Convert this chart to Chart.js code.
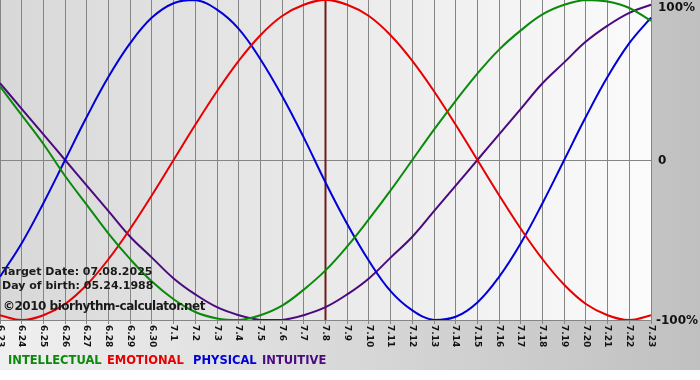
<!DOCTYPE html>
<html>
<head>
<meta charset="utf-8">
<script src="https://cdn.jsdelivr.net/npm/chart.js@4"></script>
<style>
  body { margin: 0; background: #fff; }
  #wrap { width: 700px; height: 380px; }
</style>
</head>
<body>
<div id="wrap"><canvas id="bioChart" width="700" height="380"></canvas></div>
<script>
// Fechas del periodo (mes.dia)
const days = [
  "6.23", "6.24", "6.25", "6.26", "6.27", "6.28", "6.29", "6.30",
  "7.1", "7.2", "7.3", "7.4", "7.5", "7.6", "7.7", "7.8", "7.9",
  "7.10", "7.11", "7.12", "7.13", "7.14", "7.15", "7.16", "7.17",
  "7.18", "7.19", "7.20", "7.21", "7.22", "7.23",
];

// Valores de cada ciclo (-1 a 1)
const intellectual = [0.46, 0.28, 0.10, -0.10, -0.28, -0.46, -0.62, -0.76, -0.87, -0.95, -0.99, -1.00, -0.97, -0.91, -0.81, -0.69, -0.54, -0.37, -0.19, 0.00, 0.19, 0.37, 0.54, 0.69, 0.81, 0.91, 0.97, 1.00, 0.99, 0.95, 0.87];
const emotional = [-0.97, -1.00, -0.97, -0.90, -0.78, -0.62, -0.43, -0.22, 0.00, 0.22, 0.43, 0.62, 0.78, 0.90, 0.97, 1.00, 0.97, 0.90, 0.78, 0.62, 0.43, 0.22, 0.00, -0.22, -0.43, -0.62, -0.78, -0.90, -0.97, -1.00, -0.97];
const physical = [-0.73, -0.52, -0.27, 0.00, 0.27, 0.52, 0.73, 0.89, 0.98, 1.00, 0.94, 0.82, 0.63, 0.40, 0.14, -0.14, -0.40, -0.63, -0.82, -0.94, -1.00, -0.98, -0.89, -0.73, -0.52, -0.27, 0.00, 0.27, 0.52, 0.73, 0.89];
const intuitive = [0.48, 0.32, 0.16, 0.00, -0.16, -0.32, -0.48, -0.61, -0.74, -0.84, -0.92, -0.97, -1.00, -1.00, -0.97, -0.92, -0.84, -0.74, -0.61, -0.48, -0.32, -0.16, 0.00, 0.16, 0.32, 0.48, 0.61, 0.74, 0.84, 0.92, 0.97];

const targetDay = "7.8";
const yTicks = [1, 0, -1];
const yTickLabels = ["100%", "0", "-100%"];
const seriesNames = ["INTELLECTUAL", "EMOTIONAL", "PHYSICAL", "INTUITIVE"];

const colors = ["#0a8a0a", "#e80000", "#0000d8", "#4b0a80"];
const legendX = [8, 107, 193, 262]; // posicion de cada palabra de la leyenda

// Fondo, linea de fecha y textos
const bioDecor = {
  id: "bioDecor",
  beforeDraw(chart) {
    const { ctx, chartArea: a, width, height } = chart;
    ctx.save();
    let g = ctx.createLinearGradient(0, 0, width, 0);
    g.addColorStop(0, "#f0f0f0");
    g.addColorStop(1, "#c0c0c0");
    ctx.fillStyle = g;
    ctx.fillRect(0, 0, width, height - 10);
    ctx.fillStyle = "#ffffff";
    ctx.fillRect(0, height - 10, width, 10);
    g = ctx.createLinearGradient(a.left, 0, a.right, 0);
    g.addColorStop(0, "#d8d8d8");
    g.addColorStop(1, "#fbfbfb");
    ctx.fillStyle = g;
    ctx.fillRect(a.left, a.top, a.right - a.left, a.bottom - a.top);
    ctx.restore();
  },
  beforeDatasetsDraw(chart) {
    const { ctx, chartArea: a, scales } = chart;
    const x = scales.x.getPixelForValue(days.indexOf(targetDay));
    ctx.save();
    ctx.strokeStyle = "#6e1c1c";
    ctx.lineWidth = 2;
    ctx.beginPath();
    ctx.moveTo(x, a.top);
    ctx.lineTo(x, a.bottom);
    ctx.stroke();
    ctx.restore();
  },
  afterDraw(chart) {
    const { ctx, chartArea: a, scales } = chart;
    ctx.save();
    // etiquetas del eje X giradas
    ctx.fillStyle = "#111";
    ctx.font = "bold 9px 'DejaVu Sans'";
    ctx.textAlign = "left";
    ctx.textBaseline = "middle";
    days.forEach((d, i) => {
      const x = scales.x.getPixelForValue(i);
      ctx.save();
      ctx.translate(x, a.bottom + 5);
      ctx.rotate(Math.PI / 2);
      ctx.fillText(d, 0, 0);
      ctx.restore();
    });
    // etiquetas del eje Y
    ctx.font = "bold 12px 'DejaVu Sans'";
    yTicks.forEach((v, i) => {
      let y = scales.y.getPixelForValue(v);
      if (v === 1) y += 7;
      ctx.fillText(yTickLabels[i], a.right + (v === -1 ? 5 : 7), y + 1);
    });
    // textos informativos
    ctx.fillStyle = "#1a1a1a";
    ctx.font = "bold 11px 'DejaVu Sans'";
    ctx.fillText("Target Date: 07.08.2025", 2, 272);
    ctx.fillText("Day of birth: 05.24.1988", 2, 286);
    ctx.font = "bold 12px 'DejaVu Sans'";
    ctx.letterSpacing = "-0.5px";
    ctx.fillText("\u00a92010 biorhythm-calculator.net", 3, 307);
    ctx.letterSpacing = "0px";
    // leyenda
    ctx.font = "bold 11.5px 'DejaVu Sans'";
    seriesNames.forEach((t, i) => {
      ctx.fillStyle = colors[i];
      ctx.fillText(t, legendX[i], 361);
    });
    ctx.restore();
  },
};

function serie(name, data, color) {
  return {
    label: name,
    data: data,
    borderColor: color,
    borderWidth: 2,
    pointRadius: 0,
    tension: 0.4,
    fill: false,
  };
}

new Chart(document.getElementById("bioChart").getContext("2d"), {
  type: "line",
  data: {
    labels: days,
    datasets: [
      serie(seriesNames[0], intellectual, colors[0]),
      serie(seriesNames[1], emotional, colors[1]),
      serie(seriesNames[2], physical, colors[2]),
      serie(seriesNames[3], intuitive, colors[3]),
    ],
  },
  options: {
    responsive: false,
    animation: false,
    layout: { padding: 0 },
    plugins: {
      legend: { display: false },
      tooltip: { enabled: false },
    },
    scales: {
      x: {
        offset: false,
        grid: { color: "#858585", lineWidth: 1, tickLength: 4, drawTicks: true },
        border: { color: "#858585" },
        ticks: { display: false },
        afterFit(scale) { scale.height = 60; },
      },
      y: {
        position: "right",
        min: -1,
        max: 1,
        grid: {
          drawTicks: false,
          color: (c) => (c.tick && c.tick.value === 0 ? "#858585" : "rgba(0,0,0,0)"),
        },
        border: { display: false },
        ticks: { display: false, stepSize: 1 },
        afterFit(scale) { scale.width = 49; },
      },
    },
  },
  plugins: [bioDecor],
});
</script>
</body>
</html>
